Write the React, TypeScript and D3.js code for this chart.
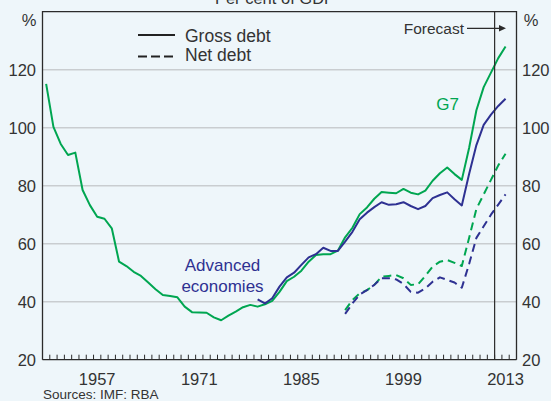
import { scaleLinear, line as d3_line, range } from "d3";

const W = 551;
const H = 401;

// Per cent of GDP, annual; 2012-2013 are IMF forecasts
const g7GrossStart = 1950;
const g7Gross = [
  115.1, 100.3, 94.4, 90.6, 91.4, 78.5, 73.3, 69.3, 68.6, 65.3,
  53.8, 52.3, 50.3, 48.9, 46.6, 44.3, 42.3, 42.0, 41.5, 38.3,
  36.4, 36.3, 36.2, 34.6, 33.6, 35.2, 36.6, 38.1, 38.9, 38.3,
  39.1, 40.3, 43.4, 47.1, 48.6, 50.7, 53.8, 56.1, 56.4, 56.4,
  57.6, 62.2, 65.5, 70.2, 72.5, 75.5, 77.8, 77.6, 77.4, 78.9,
  77.6, 77.0, 78.3, 81.7, 84.3, 86.3, 84.0, 82.0, 93.0, 106.0,
  114.0, 119.0, 124.0, 128.0,
];

const advGrossStart = 1979;
const advGross = [
  40.8, 39.4, 41.2, 45.2, 48.4, 50.0, 52.7, 55.3, 56.4, 58.6,
  57.5, 57.5, 60.7, 64.1, 68.4, 70.7, 72.6, 74.3, 73.4, 73.6,
  74.3, 73.0, 71.9, 73.0, 75.7, 76.8, 77.7, 75.3, 73.2, 84.0,
  94.0, 101.0, 104.5, 107.5, 110.0,
];

const netStart = 1991;
const g7Net = [
  37.1, 40.6, 42.9, 44.0, 45.8, 48.6, 48.9, 49.2, 48.1, 45.8,
  46.0, 48.9, 52.1, 53.8, 54.4, 53.4, 52.3, 62.0, 72.0, 77.0,
  82.0, 87.0, 91.0,
];
const advNet = [
  35.8, 39.4, 42.5, 44.0, 45.8, 48.1, 48.1, 47.7, 46.1, 43.4,
  43.1, 44.6, 46.9, 48.4, 47.5, 46.6, 44.8, 53.0, 62.0, 66.0,
  70.0, 73.5, 77.0,
];

const yTicks = [20, 40, 60, 80, 100, 120];
const yearLabels = [1957, 1971, 1985, 1999, 2013];
const forecastStart = 2011.5;

const GREEN = "#00a651";
const NAVY = "#2e3192";
const TEXT = "#333333";
const FRAME = "#2b2b2b";
const FONT = "'Liberation Sans', Arial, sans-serif";

type Pt = { year: number; value: number };
const toPoints = (start: number, values: number[]): Pt[] =>
  values.map((value, i) => ({ year: start + i, value }));

export default function App() {
  const left = 42.5;
  const right = 516.5;
  const top = 11.7;
  const bottom = 359.7;

  const x = scaleLinear().domain([1949.5, 2014.5]).range([left, right]);
  const y = scaleLinear().domain([20, 140]).range([bottom, top]);

  const line = d3_line<Pt>()
    .x((d) => x(d.year))
    .y((d) => y(d.value));

  const series = [
    { data: toPoints(g7GrossStart, g7Gross), color: GREEN, dash: undefined },
    { data: toPoints(advGrossStart, advGross), color: NAVY, dash: undefined },
    { data: toPoints(netStart, g7Net), color: GREEN, dash: "8,5" },
    { data: toPoints(netStart, advNet), color: NAVY, dash: "8,5" },
  ];

  const minorTicks = range(1950.5, 2014.5, 1);

  return (
    <svg
      width={W}
      height={H}
      style={{ position: "absolute", left: 0, top: 0, background: "#eef6fa" }}
      fontFamily={FONT}
    >
      <rect x={0} y={0} width={W} height={H} fill="#eef6fa" />

      <text x={275} y={4} textAnchor="middle" fontSize={16.5} fill={TEXT}>
        Per cent of GDP
      </text>

      {/* grid */}
      {yTicks
        .filter((t) => t > 20)
        .map((t) => (
          <line
            key={t}
            x1={left}
            x2={right}
            y1={y(t)}
            y2={y(t)}
            stroke="#c9cdd0"
            strokeWidth={1.5}
          />
        ))}

      {/* y labels both sides */}
      {yTicks.map((t) => (
        <g key={t} fontSize={16.5} fill={TEXT}>
          <text x={36} y={y(t)} dy="0.36em" textAnchor="end">
            {t}
          </text>
          <text x={522} y={y(t)} dy="0.36em" textAnchor="start">
            {t}
          </text>
        </g>
      ))}
      <text x={29} y={26} textAnchor="middle" fontSize={16.5} fill={TEXT}>
        %
      </text>
      <text x={531} y={26} textAnchor="middle" fontSize={16.5} fill={TEXT}>
        %
      </text>

      {/* series */}
      {series.map((s, i) => (
        <path
          key={i}
          d={line(s.data) ?? ""}
          fill="none"
          stroke={s.color}
          strokeWidth={2}
          strokeDasharray={s.dash}
          strokeLinejoin="round"
        />
      ))}

      {/* frame */}
      <path
        d={`M${left},${bottom}V${top}H${right}V${bottom}`}
        fill="none"
        stroke={FRAME}
        strokeWidth={1.3}
      />
      <line
        x1={left}
        x2={right}
        y1={bottom}
        y2={bottom}
        stroke={FRAME}
        strokeWidth={1.3}
      />
      {minorTicks.map((t) => (
        <line
          key={t}
          x1={x(t)}
          x2={x(t)}
          y1={bottom}
          y2={bottom - 5}
          stroke={FRAME}
          strokeWidth={1}
        />
      ))}
      {yearLabels.map((yr) => (
        <text
          key={yr}
          x={x(yr)}
          y={385}
          textAnchor="middle"
          fontSize={16.5}
          fill={TEXT}
        >
          {yr}
        </text>
      ))}

      {/* forecast marker */}
      <line
        x1={x(forecastStart)}
        x2={x(forecastStart)}
        y1={top}
        y2={bottom}
        stroke={FRAME}
        strokeWidth={1.2}
      />
      <text x={464} y={33.5} textAnchor="end" fontSize={15.5} fill={TEXT}>
        Forecast
      </text>
      <line x1={467} x2={500} y1={28.3} y2={28.3} stroke={FRAME} strokeWidth={1.2} />
      <path d="M499,25 L506,28.3 L499,31.6 Z" fill={FRAME} />

      {/* legend */}
      <line x1={138} x2={175} y1={35} y2={35} stroke="#222" strokeWidth={2} />
      <text x={185} y={41.5} fontSize={17.5} fill={TEXT}>
        Gross debt
      </text>
      <line
        x1={138}
        x2={175}
        y1={56.5}
        y2={56.5}
        stroke="#222"
        strokeWidth={2}
        strokeDasharray="9,4"
      />
      <text x={185} y={61} fontSize={17.5} fill={TEXT}>
        Net debt
      </text>

      {/* series labels */}
      <text x={222.5} y={265} dy="0.36em" textAnchor="middle" fontSize={17} fill={NAVY}>
        Advanced
      </text>
      <text x={222.5} y={286} dy="0.36em" textAnchor="middle" fontSize={17} fill={NAVY}>
        economies
      </text>
      <text x={447.5} y={103.5} dy="0.36em" textAnchor="middle" fontSize={17} fill={GREEN}>
        G7
      </text>

      <text x={43} y={399} fontSize={13.5} fill={TEXT}>
        Sources: IMF: RBA
      </text>
    </svg>
  );
}
